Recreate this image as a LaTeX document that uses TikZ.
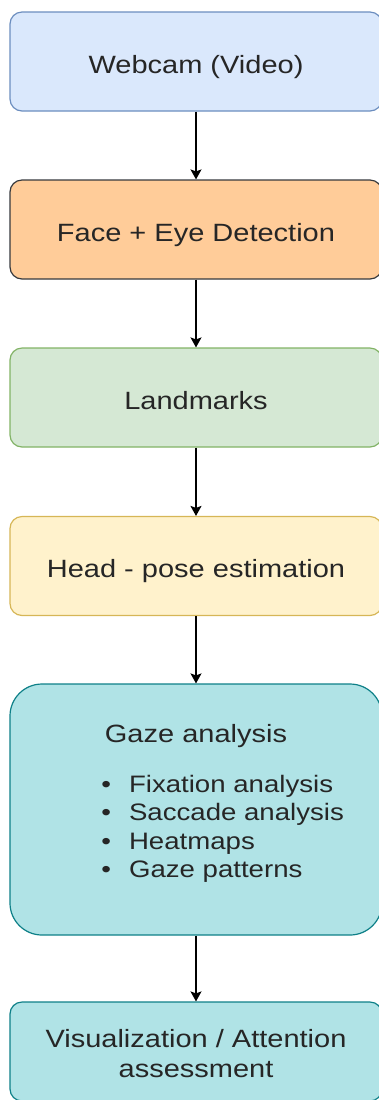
\documentclass[tikz,border=0pt]{standalone}
\usepackage{fontspec}
\setmainfont{Liberation Sans}[FakeStretch=1.16]
\usepackage{xcolor}
\usetikzlibrary{arrows.meta}

\definecolor{camfill}{HTML}{DAE8FC}
\definecolor{camline}{HTML}{6C8EBF}
\definecolor{facefill}{HTML}{FFCC99}
\definecolor{faceline}{HTML}{36393D}
\definecolor{lmkfill}{HTML}{D5E8D4}
\definecolor{lmkline}{HTML}{82B366}
\definecolor{posefill}{HTML}{FFF2CC}
\definecolor{poseline}{HTML}{D6B656}
\definecolor{gazefill}{HTML}{B0E3E6}
\definecolor{gazeline}{HTML}{0E8088}

\begin{document}
\begin{tikzpicture}[x=0.5pt, y=-0.5pt,
  font=\fontsize{12.5pt}{15pt}\selectfont,
  stage/.style={draw, line width=0.6pt, rounded corners=6pt, inner sep=0pt,
    minimum width=186pt, minimum height=49.5pt, text=black!85,
    text height=11.5pt, text depth=0pt},
  flow/.style={line width=0.6pt, -{Stealth[length=5pt,width=5.5pt,inset=1pt]}}]
\useasboundingbox (0,0) rectangle (379,1100);
\node[stage, fill=camfill, draw=camline] (cam) at (196,61.5) {Webcam (Video)};
\node[stage, fill=facefill, draw=faceline] (face) at (196,229.5) {Face + Eye Detection};
\node[stage, fill=lmkfill, draw=lmkline] (lmk) at (196,397.5) {Landmarks};
\node[stage, fill=posefill, draw=poseline] (pose) at (196,566) {Head - pose estimation};
\node[stage, fill=gazefill, draw=gazeline, rounded corners=16pt, minimum height=125.5pt] (gaze) at (196,809.5) {};
\node[anchor=base, text=black!85, inner sep=0pt] (gazetitle) at (196,742) {Gaze analysis};
\node[anchor=base west, text=black!85, inner sep=0pt, font=\fontsize{11.9pt}{14.25pt}\selectfont] (gazelist) at (101,792)
  {\begin{tabular}[t]{@{}l@{\hspace{9pt}}l@{}}
    \textbullet & Fixation analysis\\
    \textbullet & Saccade analysis\\
    \textbullet & Heatmaps\\
    \textbullet & Gaze patterns
  \end{tabular}};
\node[stage, fill=gazefill, draw=gazeline, align=center, text height=25.5pt] (vis) at (196,1051.5) {Visualization / Attention\\assessment};
\draw[flow] (cam) -- (face);
\draw[flow] (face) -- (lmk);
\draw[flow] (lmk) -- (pose);
\draw[flow] (pose) -- (gaze);
\draw[flow] (gaze) -- (vis);
\end{tikzpicture}
\end{document}
